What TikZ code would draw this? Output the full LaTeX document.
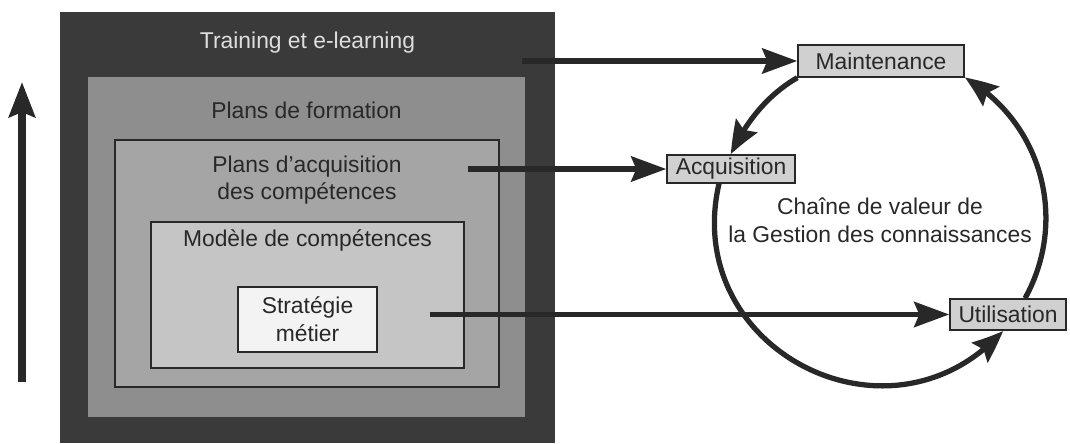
\documentclass[tikz,border=0pt]{standalone}
\usepackage{fontspec}
\setmainfont{Liberation Sans}
\usepackage{tikz}
\usetikzlibrary{arrows, shapes, positioning, arrows.meta, bending, calc}
\definecolor{ink}{RGB}{40,40,40}
\definecolor{darkbox}{RGB}{58,58,58}
\definecolor{formbox}{RGB}{142,142,142}
\definecolor{acqbox}{RGB}{165,165,165}
\definecolor{modbox}{RGB}{197,197,197}
\definecolor{stratbox}{RGB}{243,243,243}
\definecolor{tagbox}{RGB}{208,208,208}
\definecolor{lighttext}{RGB}{222,222,222}
\tikzstyle{layer} = [rectangle, inner sep=0pt, draw=ink, line width=0.7pt]
\tikzstyle{tag} = [rectangle, draw=ink, fill=tagbox, line width=0.8pt, inner sep=0pt]
\tikzstyle{flow} = [ink, line width=3.3pt, -{Stealth[length=7mm, width=5mm, inset=1mm]}]
\tikzstyle{loopline} = [ink, line width=3pt, -{Stealth[length=6.5mm, width=5mm, inset=1mm, bend]}]

\begin{document}
\begin{tikzpicture}[font=\fontsize{13}{15}\selectfont, text=ink]
  \useasboundingbox (0,0) rectangle (21.4,8.86);

  % Nested layers
  \node [layer, draw=none, fill=darkbox, minimum width=9.9cm, minimum height=8.62cm] (train) at (6.15,4.31) {};
  \node [layer, draw=none, fill=formbox, minimum width=8.74cm, minimum height=6.8cm] (form) at (6.13,3.92) {};
  \node [layer, fill=acqbox, minimum width=7.68cm, minimum height=4.94cm] (acqplan) at (6.14,3.59) {};
  \node [layer, fill=modbox, minimum width=6.26cm, minimum height=2.92cm] (model) at (6.15,2.96) {};
  \node [layer, fill=stratbox, minimum width=2.78cm, minimum height=1.3cm, align=center] (strat) at (6.15,2.47) {Stratégie\\[1pt]métier};

  % Layer titles
  \node [text=lighttext] (traintxt) at (6.15,8.0) {Training et e-learning};
  \node (formtxt) at (6.13,6.66) {Plans de formation};
  \node [align=center] (acqtxt) at (6.14,5.26) {Plans d’acquisition\\des compétences};
  \node (modtxt) at (6.15,4.06) {Modèle de compétences};

  % Upward arrow
  \coordinate (risefoot) at (0.44,1.22);
  \coordinate (risetop) at (0.44,7.22);
  \draw [ink, line width=4.2pt, -{Stealth[length=7mm, width=5.2mm, inset=1mm]}] (risefoot) -- (risetop);

  % Value chain
  \node [tag, minimum width=3.32cm, minimum height=0.64cm] (maint) at (17.62,7.64) {Maintenance};
  \node [tag, minimum width=2.56cm, minimum height=0.56cm] (acq) at (14.62,5.48) {Acquisition};
  \node [tag, minimum width=2.32cm, minimum height=0.62cm] (util) at (20.16,2.57) {Utilisation};
  \node [align=center] (chain) at (17.6,4.46) {Chaîne de valeur de\\[1pt]la Gestion des connaissances};

  \draw [loopline] (maint.south west) to [out=210, in=66, looseness=0.87] (acq.north);
  \draw [loopline] ([xshift=-0.24cm]acq.south) to [out=257, in=228, looseness=1.36] ([xshift=-0.1cm]util.south);
  \draw [loopline] ([xshift=0.34cm]util.north) to [out=61, in=330, looseness=1] (maint.south east);

  % Links from the layers
  \coordinate (from1) at (10.44,7.64);
  \coordinate (from2) at (9.36,5.48);
  \coordinate (from3) at (8.6,2.57);
  \draw [flow] (from1) -- (maint.west);
  \draw [flow] (from2) -- (acq.west);
  \draw [flow] (from3) -- (util.west);
\end{tikzpicture}
\end{document}
